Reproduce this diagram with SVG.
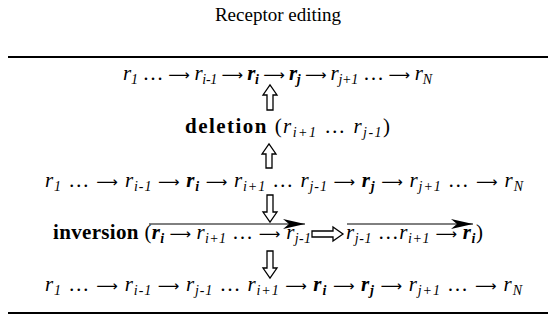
<svg xmlns="http://www.w3.org/2000/svg" width="556" height="326" viewBox="0 0 556 326">
<style>
.t{font-family:"Liberation Serif",serif;font-size:19px;fill:#000}
.m{font-family:"Liberation Serif",serif;font-size:21px;font-style:italic;fill:#000}
.s{font-size:14px}
.b{font-weight:bold}
.u{font-style:normal}
.a{font-family:"DejaVu Sans",sans-serif;font-style:normal;font-weight:normal;font-size:15px}
.rule{stroke:#000;stroke-width:2}
.ha{fill:#fff;stroke:#000;stroke-width:1.3}
.ol{stroke:#000;stroke-width:1;fill:none}
</style>
<defs>
<marker id="hd" viewBox="0 0 22 10" refX="22" refY="5" markerWidth="22" markerHeight="10" markerUnits="userSpaceOnUse" orient="auto">
<path d="M0,0 L22,5 L0,10 L6,5 Z" fill="#000"/>
</marker>
</defs>
<text class="t" x="278" y="21" text-anchor="middle">Receptor editing</text>
<line class="rule" x1="8" y1="57" x2="548" y2="57"/>
<line class="rule" x1="8" y1="313" x2="548" y2="313"/>

<g id="row1">
<text class="m" x="123" y="80" textLength="309" lengthAdjust="spacing">r<tspan class="s" dy="4">1</tspan><tspan class="u" dy="-4"> … </tspan><tspan class="a">⟶</tspan> r<tspan class="s" dy="4">i-1</tspan><tspan class="a" dy="-4"> ⟶ </tspan><tspan class="b">r</tspan><tspan class="s b" dy="4">i</tspan><tspan class="a" dy="-4"> ⟶ </tspan><tspan class="b">r</tspan><tspan class="s b" dy="4">j</tspan><tspan class="a" dy="-4"> ⟶ </tspan>r<tspan class="s" dy="4">j+1</tspan><tspan class="u" dy="-4"> … </tspan><tspan class="a">⟶</tspan> r<tspan class="s" dy="4">N</tspan></text>
</g>

<g id="deletion">
<text class="m" x="185" y="133" textLength="205" lengthAdjust="spacing"><tspan class="b u">deletion</tspan><tspan class="u"> (</tspan>r<tspan class="s" dy="4">i+1</tspan><tspan class="u" dy="-4"> … </tspan>r<tspan class="s" dy="4">j-1</tspan><tspan class="u" dy="-4">)</tspan></text>
</g>

<g id="row3">
<text class="m" x="45" y="187" textLength="478" lengthAdjust="spacing">r<tspan class="s" dy="4">1</tspan><tspan class="u" dy="-4"> … </tspan><tspan class="a">⟶</tspan> r<tspan class="s" dy="4">i-1</tspan><tspan class="a" dy="-4"> ⟶ </tspan><tspan class="b">r</tspan><tspan class="s b" dy="4">i</tspan><tspan class="a" dy="-4"> ⟶ </tspan>r<tspan class="s" dy="4">i+1</tspan><tspan class="u" dy="-4"> … </tspan>r<tspan class="s" dy="4">j-1</tspan><tspan class="a" dy="-4"> ⟶ </tspan><tspan class="b">r</tspan><tspan class="s b" dy="4">j</tspan><tspan class="a" dy="-4"> ⟶ </tspan>r<tspan class="s" dy="4">j+1</tspan><tspan class="u" dy="-4"> … </tspan><tspan class="a">⟶</tspan> r<tspan class="s" dy="4">N</tspan></text>
</g>

<g id="inversion">
<text class="m" x="53" y="239" textLength="258" lengthAdjust="spacing"><tspan class="b u">inversion</tspan><tspan class="u"> (</tspan><tspan class="b">r</tspan><tspan class="s b" dy="4">i</tspan><tspan class="a" dy="-4"> ⟶ </tspan>r<tspan class="s" dy="4">i+1</tspan><tspan class="u" dy="-4"> … </tspan><tspan class="a">⟶</tspan> r<tspan class="s" dy="4">j-1</tspan></text>
<path class="ha" d="M312,231 L333,231 L333,227 L343,234 L333,241 L333,237 L312,237 Z"/>
<text class="m" x="346" y="239" textLength="137" lengthAdjust="spacing">r<tspan class="s" dy="4">j-1</tspan><tspan class="u" dy="-4"> …</tspan>r<tspan class="s" dy="4">i+1</tspan><tspan class="a" dy="-4"> ⟶ </tspan><tspan class="b">r</tspan><tspan class="s b" dy="4">i</tspan><tspan class="u" dy="-4">)</tspan></text>
</g>

<g id="row5">
<text class="m" x="45" y="291" textLength="477" lengthAdjust="spacing">r<tspan class="s" dy="4">1</tspan><tspan class="u" dy="-4"> … </tspan><tspan class="a">⟶</tspan> r<tspan class="s" dy="4">i-1</tspan><tspan class="a" dy="-4"> ⟶ </tspan>r<tspan class="s" dy="4">j-1</tspan><tspan class="u" dy="-4"> … </tspan>r<tspan class="s" dy="4">i+1</tspan><tspan class="a" dy="-4"> ⟶ </tspan><tspan class="b">r</tspan><tspan class="s b" dy="4">i</tspan><tspan class="a" dy="-4"> ⟶ </tspan><tspan class="b">r</tspan><tspan class="s b" dy="4">j</tspan><tspan class="a" dy="-4"> ⟶ </tspan>r<tspan class="s" dy="4">j+1</tspan><tspan class="u" dy="-4"> … </tspan><tspan class="a">⟶</tspan> r<tspan class="s" dy="4">N</tspan></text>
</g>

<g id="connectors">
<path class="ha" d="M267,110 L267,95 L263,95 L270,85 L277,95 L273,95 L273,110 Z"/>
<path class="ha" d="M266,168 L266,154 L262,154 L269,144 L276,154 L272,154 L272,168 Z"/>
<path class="ha" d="M267,195 L267,212 L263,212 L270,222 L277,212 L273,212 L273,195 Z"/>
<path class="ha" d="M267,251 L267,268 L263,268 L270,278 L277,268 L273,268 L273,251 Z"/>
<line class="ol" x1="149" y1="224" x2="305" y2="224" marker-end="url(#hd)"/>
<line class="ol" x1="347" y1="224" x2="473" y2="224" marker-end="url(#hd)"/>
</g>
</svg>
